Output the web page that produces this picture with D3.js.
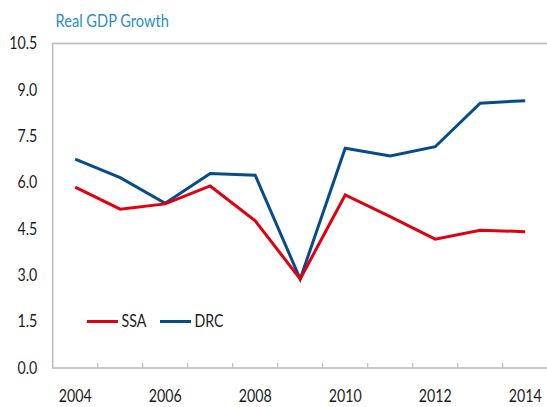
<!DOCTYPE html>
<html>
<head>
<meta charset="utf-8">
<script src="https://cdn.jsdelivr.net/npm/d3@7"></script>
<style>
  html, body { margin: 0; padding: 0; background: #fff; }
  svg { display: block; }
  text { font-family: Lato, "Open Sans", sans-serif; }
</style>
</head>
<body>
<div id="chart"></div>
<script>
// Real GDP growth, percent per year
const years = ["2004","2005","2006","2007","2008","2009","2010","2011","2012","2013","2014"];
const ssa = [5.85, 5.14, 5.31, 5.89, 4.76, 2.88, 5.60, 4.90, 4.17, 4.46, 4.41];
const drc = [6.76, 6.16, 5.33, 6.29, 6.24, 2.88, 7.11, 6.86, 7.16, 8.57, 8.65];
const yTicks = [0, 1.5, 3, 4.5, 6, 7.5, 9, 10.5];
const xLabels = ["2004","2006","2008","2010","2012","2014"];
const seriesNames = ["SSA", "DRC"];

const W = 547, H = 407;
const plotLeft = 52.7, plotTop = 43.5, plotRight = 547.7, plotBottom = 368;
const SX = 0.86;          // horizontal squeeze for a narrower face
const FS = 16.5;          // label font size
const ink = "#1a1a1a";

const svg = d3.select("#chart").append("svg").attr("width", W).attr("height", H);

const x = d3.scaleBand().domain(years).range([plotLeft, plotRight]).padding(0);
const y = d3.scaleLinear().domain([0, 10.5]).range([plotBottom, plotTop]);

const frame = "#bdbdbd";

// plot frame
svg.append("rect")
  .attr("x", plotLeft).attr("y", plotTop)
  .attr("width", plotRight - plotLeft + 2).attr("height", plotBottom - plotTop)
  .attr("fill", "none").attr("stroke", frame).attr("stroke-width", 1.6);

// category separators on the x axis
svg.append("g").selectAll("line")
  .data(years.slice(1))
  .join("line")
  .attr("x1", d => x(d)).attr("x2", d => x(d))
  .attr("y1", plotBottom - 5).attr("y2", plotBottom)
  .attr("stroke", frame).attr("stroke-width", 1.2);

// y axis labels
const yAxis = d3.axisLeft(y).tickValues(yTicks).tickFormat(d3.format(".1f")).tickSize(0).tickPadding(15);
const gy = svg.append("g").attr("transform", `translate(${plotLeft},0)`).call(yAxis);
gy.select(".domain").remove();
gy.selectAll("text").attr("font-size", FS).attr("fill", ink)
  .attr("font-family", "Lato, 'Open Sans', sans-serif")
  .attr("x", -15.5 / SX)
  .attr("transform", `scale(${SX},1)`);

// x axis labels
const xAxis = d3.axisBottom(x).tickValues(xLabels).tickSize(0).tickPadding(22);
const gx = svg.append("g").attr("transform", `translate(0,${plotBottom})`).call(xAxis);
gx.select(".domain").remove();
gx.selectAll("text").attr("font-size", FS).attr("fill", ink)
  .attr("font-family", "Lato, 'Open Sans', sans-serif")
  .attr("transform", `scale(${SX},1)`);

// series lines
const cx = d => x(d) + x.bandwidth() / 2;
const line = d3.line().x((d, i) => cx(years[i])).y(d => y(d));
const colors = { SSA: "#e0000f", DRC: "#064d87" };

svg.append("path").datum(drc).attr("d", line)
  .attr("fill", "none").attr("stroke", colors.DRC).attr("stroke-width", 3);
svg.append("path").datum(ssa).attr("d", line)
  .attr("fill", "none").attr("stroke", colors.SSA).attr("stroke-width", 3);

// legend
const legend = svg.append("g").attr("transform", "translate(87,321.5)");
const legendX = [0, 73];
seriesNames.forEach((name, i) => {
  const g = legend.append("g").attr("transform", `translate(${legendX[i]},0)`);
  g.append("line").attr("x1", 0).attr("x2", 31).attr("stroke", colors[name]).attr("stroke-width", 3);
  g.append("text").attr("transform", `translate(34.5,0) scale(${SX},1)`).attr("dy", "0.36em")
    .attr("font-size", FS).attr("fill", ink).text(name);
});

// title
svg.append("text").attr("transform", `translate(55.5,26.5) scale(${SX},1)`)
  .attr("font-size", 17).attr("fill", "#2a8ec3").text("Real GDP Growth");
</script>
</body>
</html>
